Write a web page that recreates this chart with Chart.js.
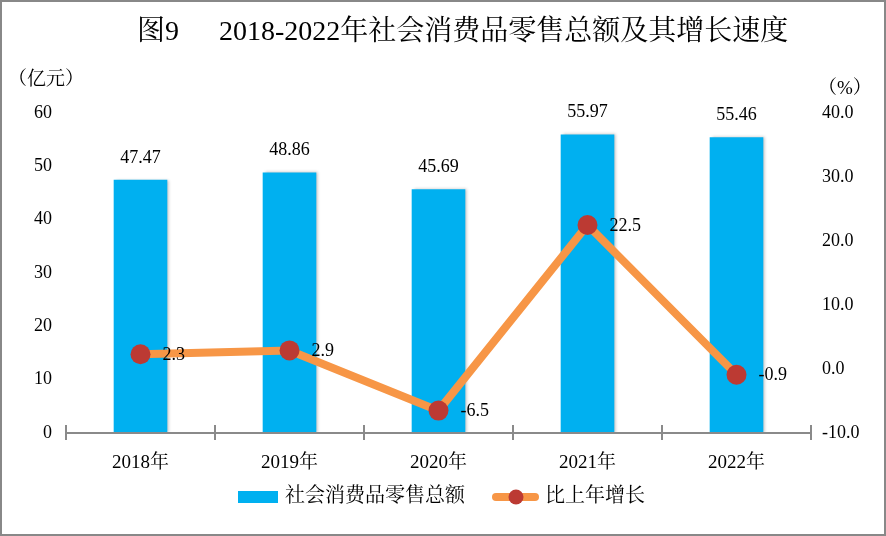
<!DOCTYPE html>
<html><head><meta charset="utf-8">
<script src="https://cdn.jsdelivr.net/npm/chart.js@4/dist/chart.umd.min.js"></script>
<style>html,body{margin:0;padding:0;background:#fff;} #wrap{width:886px;height:536px;position:relative;} canvas{display:block;}</style>
</head><body><div id="wrap"><canvas id="c" width="886" height="536"></canvas></div>
<script>
const categories = ['2018年','2019年','2020年','2021年','2022年'];
const salesTotal = [47.47, 48.86, 45.69, 55.97, 55.46];
const growthRate = [2.3, 2.9, -6.5, 22.5, -0.9];
const leftRange = [0, 60];
const rightRange = [-10, 40];
const tickStep = 10;
const titleNo = '图9';
const titleText = '2018-2022年社会消费品零售总额及其增长速度';
const leftUnit = '（亿元）';
const rightUnit = '（%）';
const barLabel = '社会消费品零售总额';
const lineLabel = '比上年增长';

const FF = "'Liberation Serif','Noto Serif CJK SC','Noto Sans CJK SC',serif";
const BAR_COLOR = '#00B0F0';
const LINE_COLOR = '#F79646';
const DOT_COLOR = '#BC3A33';
const AXIS_COLOR = '#8a8a8a';

const decorPlugin = {
  id: 'decor',
  beforeDatasetDraw(chart, args) {
    if (args.meta.type === 'bar') {
      const ctx = chart.ctx; ctx.save();
      ctx.shadowColor = 'rgba(0,0,0,0.25)'; ctx.shadowBlur = 3; ctx.shadowOffsetX = 2;
    }
  },
  afterDatasetDraw(chart, args) {
    if (args.meta.type === 'bar') chart.ctx.restore();
  },
  afterDatasetsDraw(chart) {
    const ctx = chart.ctx, ca = chart.chartArea;
    ctx.save();
    ctx.strokeStyle = AXIS_COLOR; ctx.lineWidth = 2;
    ctx.beginPath();
    ctx.moveTo(ca.left, ca.bottom); ctx.lineTo(ca.right, ca.bottom);
    const n = categories.length, w = (ca.right - ca.left) / n;
    for (let i = 0; i <= n; i++) {
      const x = Math.round(ca.left + i * w);
      ctx.moveTo(x, ca.bottom - 8); ctx.lineTo(x, ca.bottom + 7);
    }
    ctx.stroke();
    ctx.restore();
    ctx.save();
    ctx.fillStyle = '#000';
    ctx.font = '18px ' + FF;
    ctx.textBaseline = 'middle';
    chart.data.datasets.forEach((ds, di) => {
      const meta = chart.getDatasetMeta(di);
      meta.data.forEach((el, i) => {
        const v = ds.data[i];
        if (meta.type === 'bar') {
          ctx.textAlign = 'center';
          ctx.fillText(v.toFixed(2), el.x, el.y - 22);
        } else {
          ctx.textAlign = 'left';
          ctx.fillText(v.toFixed(1), el.x + 22, el.y + 1);
        }
      });
    });
    ctx.restore();
  },
  afterDraw(chart) {
    const ctx = chart.ctx;
    ctx.save();
    ctx.fillStyle = '#000';
    ctx.textBaseline = 'middle';
    ctx.textAlign = 'left';
    ctx.font = '28px ' + FF;
    ctx.fillText(titleNo, 137, 33);
    ctx.fillText(titleText, 219, 33);
    ctx.font = '19px ' + FF;
    ctx.fillText(leftUnit, 8, 80);
    ctx.fillText(rightUnit, 818, 89);
    ctx.fillStyle = BAR_COLOR;
    ctx.fillRect(238, 491, 40, 12);
    ctx.strokeStyle = LINE_COLOR; ctx.lineWidth = 8; ctx.lineCap = 'round';
    ctx.beginPath(); ctx.moveTo(496, 497); ctx.lineTo(535, 497); ctx.stroke();
    ctx.fillStyle = DOT_COLOR;
    ctx.beginPath(); ctx.arc(516, 497, 7.5, 0, Math.PI * 2); ctx.fill();
    ctx.fillStyle = '#000';
    ctx.font = '20px ' + FF;
    ctx.fillText(barLabel, 285, 497);
    ctx.fillText(lineLabel, 545, 497);
    ctx.strokeStyle = '#888'; ctx.lineWidth = 2;
    ctx.strokeRect(1, 1, 884, 534);
    ctx.restore();
  }
};

const tickFont = { family: FF, size: 18 };

new Chart(document.getElementById('c'), {
  data: {
    labels: categories,
    datasets: [
      {
        type: 'line', label: lineLabel, data: growthRate, yAxisID: 'y1', order: 0,
        borderColor: LINE_COLOR, borderWidth: 8, tension: 0,
        pointRadius: 10, pointBackgroundColor: DOT_COLOR, pointBorderColor: DOT_COLOR, pointBorderWidth: 0
      },
      {
        type: 'bar', label: barLabel, data: salesTotal, yAxisID: 'y', order: 1,
        backgroundColor: BAR_COLOR, barPercentage: 0.36, categoryPercentage: 1
      }
    ]
  },
  options: {
    responsive: false, animation: false, devicePixelRatio: 1,
    layout: { padding: { top: 113, left: 0, right: 0, bottom: 0 } },
    plugins: { legend: { display: false }, tooltip: { enabled: false }, title: { display: false } },
    scales: {
      x: {
        offset: true,
        grid: { display: false, drawTicks: false }, border: { display: false },
        ticks: { font: { family: FF, size: 19 }, color: '#000', padding: 19 },
        afterFit(s) { s.height = 103; }
      },
      y: {
        position: 'left', min: leftRange[0], max: leftRange[1],
        grid: { display: false, drawTicks: false }, border: { display: false },
        ticks: { stepSize: tickStep, font: tickFont, color: '#000', padding: 14 },
        afterFit(s) { s.width = 66; }
      },
      y1: {
        position: 'right', min: rightRange[0], max: rightRange[1],
        grid: { display: false, drawTicks: false }, border: { display: false },
        ticks: { stepSize: tickStep, font: tickFont, color: '#000', padding: 11, callback: v => Number(v).toFixed(1) },
        afterFit(s) { s.width = 75; }
      }
    }
  },
  plugins: [decorPlugin]
});
</script>
</body></html>
